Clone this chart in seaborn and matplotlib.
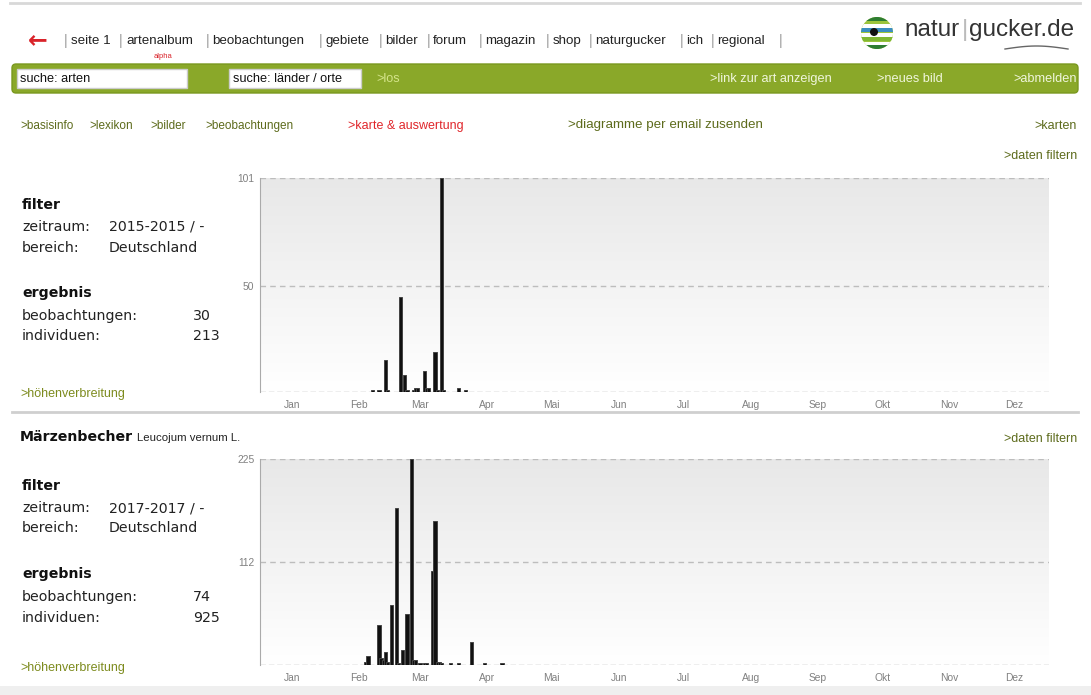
import numpy as np
import pandas as pd
import seaborn as sb
import matplotlib.pyplot as plt
from matplotlib.colors import LinearSegmentedColormap
from matplotlib.patches import FancyBboxPatch, Rectangle, Circle

# data: day of year -> number of individuals
days_2015 = [52, 55, 58, 59, 65, 67, 68, 71, 72, 73, 76, 77, 78, 81, 82, 84, 85, 92, 95]
vals_2015 = [1, 1, 15, 1, 45, 8, 1, 1, 2, 2, 10, 2, 2, 19, 1, 101, 1, 2, 1]

days_2017 = [49, 50, 55, 56, 57, 58, 59, 61, 63, 64, 66, 68, 70, 71, 72, 74, 76, 77,
             80, 81, 82, 83, 84, 88, 92, 98, 104, 112]
vals_2017 = [3, 10, 44, 8, 6, 14, 3, 66, 172, 2, 16, 56, 225, 6, 5, 2, 2, 2,
             103, 157, 3, 3, 2, 2, 2, 25, 2, 2]

months = ['Jan', 'Feb', 'Mar', 'Apr', 'Mai', 'Jun', 'Jul', 'Aug', 'Sep', 'Okt', 'Nov', 'Dez']
month_start = [0, 31, 59, 90, 120, 151, 181, 212, 243, 273, 304, 334]

nav_items = ['seite 1', 'artenalbum', 'beobachtungen', 'gebiete', 'bilder', 'forum',
             'magazin', 'shop', 'naturgucker', 'ich', 'regional']
nav_x = [71, 126, 212, 325, 385, 433, 485, 553, 595, 686, 717]
nav_bars = [64, 119, 206, 319, 379, 427, 479, 546, 589, 680, 711, 779]

sub_items = ['>basisinfo', '>lexikon', '>bilder', '>beobachtungen']
sub_x = [20, 89, 150, 205]

W, H = 1091, 695
fig = plt.figure(figsize=(W / 100, H / 100), dpi=100)
fig.patch.set_facecolor('white')

# page layer in pixel coordinates
bg = fig.add_axes([0, 0, 1, 1])
bg.set_xlim(0, W)
bg.set_ylim(H, 0)
bg.axis('off')

ARIAL = 'Liberation Sans'
VERD = 'DejaVu Sans'
LINK = '#5d6b1c'
OLIVE = '#7d8b1e'

bg.plot([10, 1080], [3, 3], color='#d8d8d8', lw=2)

# top navigation
bg.text(38, 40, '\u2190', color='#d9232a', fontsize=17, fontweight='bold',
        ha='center', va='center', family=VERD)
for x in nav_bars:
    bg.text(x, 41, '|', color='#999999', fontsize=10, ha='left', va='center', family=ARIAL)
for x, t in zip(nav_x, nav_items):
    bg.text(x, 41, t, color='#222222', fontsize=9.6, ha='left', va='center', family=ARIAL)
bg.text(163, 56, 'alpha', color='#d9232a', fontsize=5.5, ha='center', va='center', family=ARIAL)

# logo
logo = Circle((877, 33), 16, transform=bg.transData, facecolor='#9cc43c')
bg.add_patch(logo)
for y0, c in [(17, '#2e7d32'), (24, '#ffffff'), (28, '#3b8ec2'), (33, '#ffffff'),
              (37, '#7fb832'), (42, '#ffffff'), (45, '#2e7d32')]:
    r = Rectangle((860, y0), 34, 4, facecolor=c, edgecolor='none')
    bg.add_patch(r)
    r.set_clip_path(logo)
bg.add_patch(Circle((874, 32), 4, facecolor='#111111'))
bg.text(904, 30, 'natur', color='#333333', fontsize=17.5, ha='left', va='center', family=ARIAL)
bg.text(962, 30, '|', color='#bbbbbb', fontsize=17.5, ha='left', va='center', family=ARIAL)
bg.text(969, 30, 'gucker.de', color='#333333', fontsize=17.5, ha='left', va='center', family=ARIAL)
bg.plot(np.linspace(1005, 1068, 20), 49 - 3 * np.sin(np.linspace(0, np.pi, 20)),
        color='#666666', lw=1)

# green search bar
bg.add_patch(FancyBboxPatch((12, 64), 1066, 29, boxstyle='round,pad=0,rounding_size=4',
                            facecolor='#8aa829', edgecolor='#7a9820'))
bg.add_patch(Rectangle((17, 69), 170, 19, facecolor='white', edgecolor='#cccccc'))
bg.add_patch(Rectangle((229, 69), 132, 19, facecolor='white', edgecolor='#cccccc'))
bg.text(20, 79, 'suche: arten', fontsize=9.2, family=ARIAL, va='center', color='#111111')
bg.text(233, 79, 'suche: länder / orte', fontsize=9.2, family=ARIAL, va='center', color='#111111')
bg.text(376, 79, '>los', fontsize=9.2, family=ARIAL, va='center', color='#d4e48a')
bg.text(710, 79, '>link zur art anzeigen', fontsize=9.2, family=ARIAL, va='center', color='#f0f6dc')
bg.text(877, 79, '>neues bild', fontsize=9.2, family=ARIAL, va='center', color='#f0f6dc')
bg.text(1077, 79, '>abmelden', fontsize=9.2, family=ARIAL, va='center', ha='right', color='#f0f6dc')

# sub navigation
for x, t in zip(sub_x, sub_items):
    bg.text(x, 126, t, fontsize=8.5, family=ARIAL, va='center', color=LINK)
bg.text(348, 126, '>karte & auswertung', fontsize=9, family=ARIAL, va='center', color='#e0262b')
bg.text(568, 125, '>diagramme per email zusenden', fontsize=9.6, family=ARIAL, va='center', color=LINK)
bg.text(1077, 126, '>karten', fontsize=9, family=ARIAL, va='center', ha='right', color=LINK)
bg.text(1077, 156, '>daten filtern', fontsize=9, family=ARIAL, va='center', ha='right', color=LINK)


def side_panel(y_filter, zeit, beob, indiv, ys):
    bg.text(22, y_filter, 'filter', fontsize=10.2, fontweight='bold', family=VERD, va='center', color='#111111')
    bg.text(22, ys[0], 'zeitraum:', fontsize=10.2, family=VERD, va='center', color='#222222')
    bg.text(109, ys[0], zeit, fontsize=10.2, family=VERD, va='center', color='#222222')
    bg.text(22, ys[1], 'bereich:', fontsize=10.2, family=VERD, va='center', color='#222222')
    bg.text(109, ys[1], 'Deutschland', fontsize=10.2, family=VERD, va='center', color='#222222')
    bg.text(22, ys[2], 'ergebnis', fontsize=10.2, fontweight='bold', family=VERD, va='center', color='#111111')
    bg.text(22, ys[3], 'beobachtungen:', fontsize=10.2, family=VERD, va='center', color='#222222')
    bg.text(193, ys[3], beob, fontsize=10.2, family=VERD, va='center', color='#222222')
    bg.text(22, ys[4], 'individuen:', fontsize=10.2, family=VERD, va='center', color='#222222')
    bg.text(193, ys[4], indiv, fontsize=10.2, family=VERD, va='center', color='#222222')
    bg.text(20, ys[5], '>höhenverbreitung', fontsize=9, family=ARIAL, va='center', color=OLIVE)


side_panel(205, '2015-2015 / -', '30', '213', [227, 248, 293, 316, 336, 394])
bg.plot([12, 1078], [412, 412], color='#cfcfcf', lw=2)
bg.text(20, 437, 'Märzenbecher', fontsize=10.2, fontweight='bold', family=VERD, va='center', color='#111111')
bg.text(137, 438, 'Leucojum vernum L.', fontsize=8.2, family=ARIAL, va='center', color='#222222')
bg.text(1077, 439, '>daten filtern', fontsize=9, family=ARIAL, va='center', ha='right', color=LINK)
side_panel(486, '2017-2017 / -', '74', '925', [508, 528, 574, 597, 618, 668])
bg.add_patch(Rectangle((0, 686), W, 9, facecolor='#efefef', edgecolor='none'))

grad = LinearSegmentedColormap.from_list('g', ['#ffffff', '#e8e8e8'])


def chart(rect, days, vals, top, mid):
    ax = fig.add_axes(rect)
    df = pd.DataFrame({'day': days, 'n': vals})
    sb.barplot(data=df, x='day', y='n', native_scale=True, orient='x', color='#111111',
               width=1.5, errorbar=None, saturation=1, ax=ax, zorder=3,
               edgecolor='#444444', linewidth=0.7)
    ax.imshow(np.linspace(0, 1, 100)[:, None], extent=[0, 365, 0, top], origin='lower',
              aspect='auto', cmap=grad, zorder=0)
    for y in (mid, top):
        ax.axhline(y, color='#bdbdbd', ls=(0, (4, 3)), lw=1, zorder=1)
    ax.axhline(0, color='#aaaaaa', ls=(0, (4, 2)), lw=1, zorder=1)
    ax.set_xlim(0, 365)
    ax.set_ylim(0, top)
    ax.set_yticks([mid, top])
    ax.set_yticklabels([str(mid), str(top)])
    ax.set_xticks([m + 15 for m in month_start])
    ax.set_xticklabels(months)
    ax.tick_params(axis='both', length=0, labelsize=7.4, colors='#808080', pad=4)
    ax.tick_params(axis='x', pad=6)
    for lab in ax.get_xticklabels() + ax.get_yticklabels():
        lab.set_family(ARIAL)
    for s in ('top', 'right', 'bottom'):
        ax.spines[s].set_visible(False)
    ax.spines['left'].set_color('#aaaaaa')
    ax.set_xlabel('')
    ax.set_ylabel('')
    ax.set_facecolor('none')
    return ax


chart([260 / W, 1 - 392 / H, 789 / W, 214 / H], days_2015, vals_2015, 101, 50)
chart([260 / W, 1 - 665 / H, 789 / W, 206 / H], days_2017, vals_2017, 225, 112)

plt.savefig('out.png', dpi=100)
